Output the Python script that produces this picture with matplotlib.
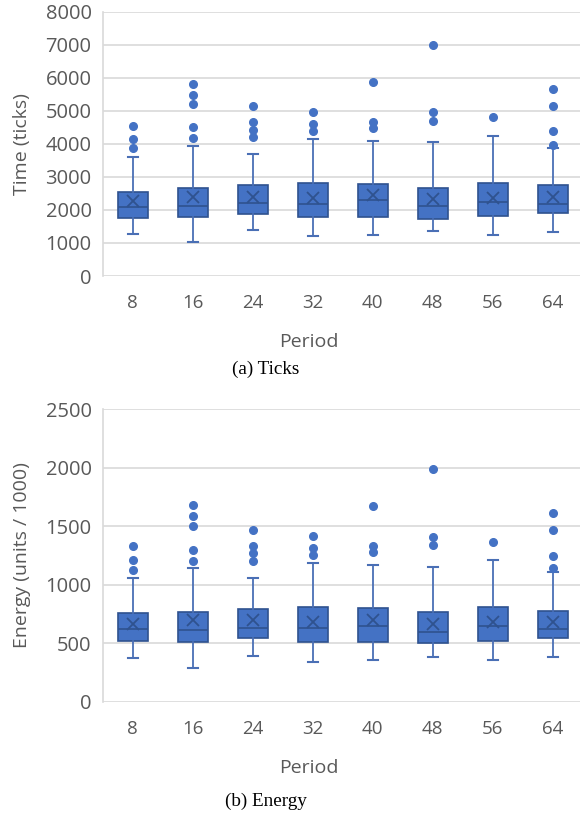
import matplotlib
matplotlib.use("Agg")
import matplotlib.pyplot as plt

# periods on the x axis
periods = ["8", "16", "24", "32", "40", "48", "56", "64"]

# (a) Ticks
ticks_low = [1270, 1020, 1390, 1200, 1240, 1360, 1240, 1320]
ticks_q1 = [1755, 1795, 1876, 1795, 1795, 1725, 1826, 1917]
ticks_med = [2097, 2109, 2219, 2179, 2291, 2109, 2249, 2179]
ticks_q3 = [2542, 2663, 2745, 2815, 2785, 2663, 2815, 2745]
ticks_high = [3611, 3944, 3683, 4137, 4095, 4056, 4237, 3874]
ticks_mean = [2260, 2400, 2400, 2370, 2452, 2320, 2360, 2400]
ticks_fliers = [
    [4540, 4137, 3865],
    [5820, 5478, 5215, 4510, 4167],
    [5136, 4661, 4409, 4207],
    [4964, 4600, 4389],
    [5861, 4670, 4470],
    [6992, 4964, 4691],
    [4802],
    [5670, 5145, 4398, 3974],
]

# (b) Energy (units / 1000)
energy_low = [374, 291, 394, 342, 354, 385, 354, 385]
energy_q1 = [522, 511, 542, 511, 511, 499, 522, 545]
energy_med = [619, 611, 630, 630, 650, 599, 650, 619]
energy_q3 = [759, 770, 790, 810, 799, 767, 810, 778]
energy_high = [1055, 1141, 1055, 1184, 1172, 1152, 1215, 1110]
energy_mean = [662, 696, 696, 682, 696, 662, 684, 684]
energy_fliers = [
    [1332, 1215, 1129],
    [1683, 1589, 1503, 1300, 1204],
    [1469, 1332, 1269, 1204],
    [1417, 1317, 1255],
    [1674, 1335, 1278],
    [1993, 1409, 1343],
    [1366],
    [1612, 1471, 1249, 1141],
]

FILL = "#4472C4"
EDGE = "#2F528F"
GRID = "#D9D9D9"
TXT = "#595959"
SANS = "Open Sans"
W, H = 580, 815


def make_stats(low, q1, med, q3, high, mean, fliers):
    stats = []
    for i in range(len(periods)):
        stats.append(dict(whislo=low[i], q1=q1[i], med=med[i], q3=q3[i],
                          whishi=high[i], mean=mean[i], fliers=fliers[i]))
    return stats


def draw(rect, stats, ymax, ystep, ylabel, caption, ylab_x, cap_y):
    ax = fig.add_axes(rect)
    pos = list(range(1, len(periods) + 1))
    ax.bxp(stats, positions=pos, widths=0.5, capwidths=0.17, showmeans=True,
           patch_artist=True,
           boxprops=dict(facecolor=FILL, edgecolor=EDGE, linewidth=1.2),
           medianprops=dict(color=EDGE, linewidth=1.2),
           whiskerprops=dict(color="#4A6FB5", linewidth=1.3),
           capprops=dict(color="#4A6FB5", linewidth=1.5),
           meanprops=dict(marker="x", markeredgecolor=EDGE, markersize=9,
                          markeredgewidth=1.3),
           flierprops=dict(marker="o", markerfacecolor=FILL,
                           markeredgecolor=FILL, markersize=5.5))
    ax.set_xlim(0.5, 8.455)
    ax.set_ylim(0, ymax)
    ax.set_yticks(range(0, ymax + 1, ystep))
    ax.set_xticks(pos)
    ax.set_xticklabels(periods)
    ax.yaxis.grid(True, color=GRID, linewidth=1.2)
    ax.set_axisbelow(True)
    for s in ["top", "right", "bottom"]:
        ax.spines[s].set_visible(False)
    ax.spines["left"].set_color(GRID)
    ax.spines["left"].set_linewidth(1.2)
    ax.tick_params(axis="x", length=0, pad=13, labelsize=13.5, labelcolor=TXT)
    ax.tick_params(axis="y", length=0, pad=8, labelsize=14.5, labelcolor=TXT)
    for lab in ax.get_xticklabels() + ax.get_yticklabels():
        lab.set_family(SANS)

    ax.set_xlabel("Period", fontsize=14, color=TXT, family=SANS, va="center")
    ax.xaxis.set_label_coords((309 - 102.7) / 477.3, -66 / (rect[3] * H))
    ax.set_ylabel(ylabel, fontsize=14, color=TXT, family=SANS, va="center")
    ax.yaxis.set_label_coords(ylab_x, 0.5)
    fig.text(266 / W, 1 - cap_y / H, caption, ha="center", va="center",
             fontsize=13.8, family="Liberation Serif", color="black")
    return ax


fig = plt.figure(figsize=(W / 100, H / 100), dpi=100)

left = 102.7 / W
width = (580 - 102.7) / W

# top panel: y from 11.7 px to 276 px
top_rect = [left, 1 - 276 / H, width, (276 - 11.7) / H]
draw(top_rect,
     make_stats(ticks_low, ticks_q1, ticks_med, ticks_q3, ticks_high,
                ticks_mean, ticks_fliers),
     8000, 1000, "Time (ticks)", "(a) Ticks", (21.7 - 102.7) / 477.3, 369.3)

# bottom panel: y from 409.3 px to 701.7 px
bot_rect = [left, 1 - 701.7 / H, width, (701.7 - 409.3) / H]
draw(bot_rect,
     make_stats(energy_low, energy_q1, energy_med, energy_q3, energy_high,
                energy_mean, energy_fliers),
     2500, 500, "Energy (units / 1000)", "(b) Energy",
     (21.7 - 102.7) / 477.3, 801.7)

fig.savefig("out.png", dpi=100)
